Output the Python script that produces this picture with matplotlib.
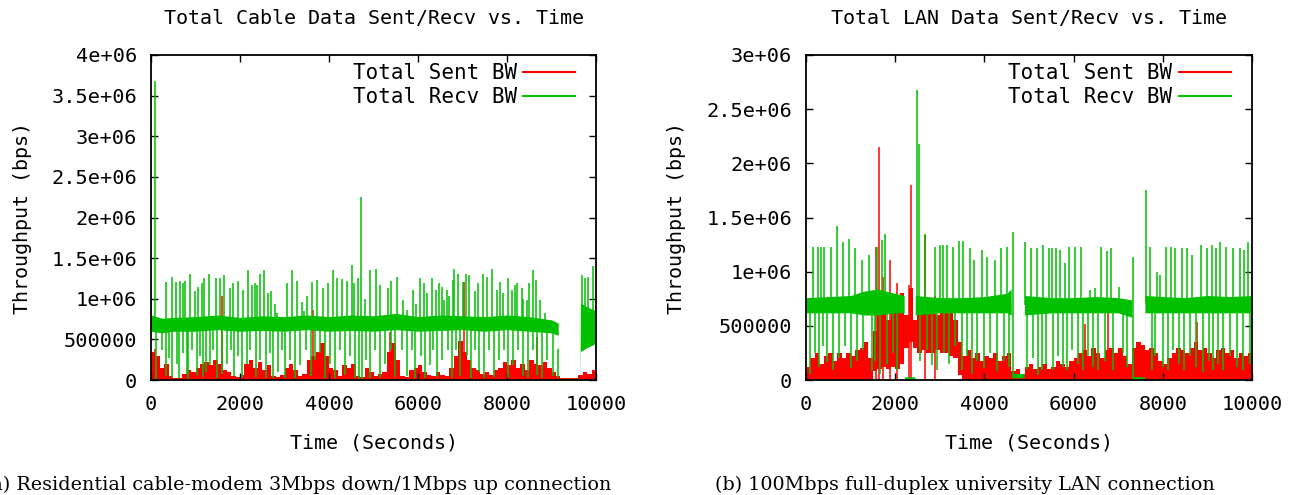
import numpy as np
import matplotlib
matplotlib.use('Agg')
import matplotlib.pyplot as plt

# all throughput values below are in units of 1e6 bps

# ---------- (a) cable modem ----------
a_band_t = [0, 250, 500, 1000, 1500, 2000, 2500, 3000, 3500, 4000, 4500, 5000, 5500,
            6000, 6500, 7000, 7500, 8000, 8500, 9000, 9150, 9160, 9640, 9650, 9800, 10000]
a_band_lo = [0.60, 0.58, 0.60, 0.60, 0.62, 0.60, 0.61, 0.60, 0.62, 0.60, 0.61, 0.60, 0.62,
             0.60, 0.61, 0.62, 0.60, 0.62, 0.60, 0.58, 0.55, 0.00, 0.00, 0.35, 0.40, 0.45]
a_band_hi = [0.80, 0.76, 0.77, 0.78, 0.80, 0.77, 0.79, 0.78, 0.80, 0.78, 0.80, 0.79, 0.82,
             0.78, 0.80, 0.79, 0.78, 0.80, 0.78, 0.74, 0.70, 0.02, 0.02, 0.95, 0.90, 0.85]

a_up_t = [10, 100, 337, 479, 562, 652, 727, 764, 876, 989,
          1049, 1138, 1191, 1311, 1460, 1550, 1640, 1775, 1850, 1962,
          2075, 2187, 2262, 2337, 2374, 2449, 2547, 2636, 2689, 2786,
          2824, 3049, 3161, 3273, 3385, 3445, 3498, 3610, 3723, 3872,
          3985, 4097, 4172, 4284, 4397, 4509, 4561, 4659, 4719, 4809,
          4921, 5048, 5146, 5333, 5385, 5520, 5656, 5746, 5881, 5956,
          6045, 6135, 6210, 6323, 6405, 6472, 6532, 6592, 6645, 6705,
          6779, 6817, 6907, 7019, 7071, 7154, 7281, 7356, 7454, 7558,
          7671, 7768, 7843, 7918, 8030, 8105, 8180, 8233, 8330, 8367,
          8442, 8502, 8592, 8652, 8742, 8854, 9678, 9753, 9828, 9925]
a_up_v = [0.98, 3.68, 1.21, 1.27, 1.21, 1.22, 1.20, 1.22, 1.31, 1.10,
          1.15, 1.19, 1.25, 1.30, 1.25, 1.25, 1.29, 1.13, 1.19, 1.22,
          1.11, 1.35, 1.17, 1.19, 1.17, 1.31, 1.35, 1.07, 1.09, 0.94,
          0.82, 1.20, 1.35, 1.22, 0.96, 0.85, 1.03, 1.21, 1.23, 1.13,
          1.19, 1.35, 1.25, 1.24, 1.22, 1.41, 1.19, 1.25, 2.25, 1.00,
          1.35, 1.37, 1.17, 1.13, 1.22, 1.27, 0.98, 0.86, 1.11, 0.94,
          1.25, 1.19, 1.07, 1.25, 1.11, 1.19, 1.15, 0.98, 1.11, 1.03,
          1.23, 1.37, 1.30, 1.21, 1.31, 1.29, 1.09, 1.19, 1.30, 1.27,
          1.37, 1.11, 1.21, 1.07, 1.25, 1.11, 1.17, 1.19, 1.13, 1.00,
          0.98, 1.19, 1.35, 1.23, 0.98, 0.82, 1.29, 1.25, 1.27, 1.40]

a_dn_t = [112, 240, 337, 412, 464, 577, 637, 712, 801, 839,
          914, 1026, 1101, 1176, 1236, 1326, 1401, 1476, 1588, 1700,
          1790, 1865, 1947, 2037, 2149, 2224, 2359, 2449, 2584, 2674,
          2734, 2861, 2936, 3011, 3123, 3236, 3348, 3483, 3588, 3685,
          3797, 3910, 4022, 4135, 4247, 4359, 4472, 4584, 4681, 4734,
          4831, 4921, 5033, 5146, 5258, 5385, 5483, 5633, 5746, 5858,
          5933, 6060, 6158, 6270, 6345, 6420, 6532, 6682, 6757, 6854,
          6944, 7094, 7184, 7281, 7379, 7483, 7603, 7708, 7828, 7933,
          8030, 8143, 8255, 8367, 8480, 8577, 8682, 8779, 8892, 9041,
          9154]
a_dn_v = [0.00, 0.37, 0.05, 0.27, 0.03, 0.20, 0.02, 0.33, 0.08, 0.01,
          0.37, 0.06, 0.29, 0.04, 0.10, 0.18, 0.37, 0.02, 0.08, 0.20,
          0.37, 0.05, 0.29, 0.02, 0.20, 0.37, 0.04, 0.25, 0.02, 0.33,
          0.02, 0.10, 0.37, 0.03, 0.25, 0.02, 0.18, 0.37, 0.05, 0.25,
          0.33, 0.02, 0.20, 0.03, 0.37, 0.06, 0.29, 0.02, 0.01, 0.01,
          0.25, 0.03, 0.37, 0.02, 0.20, 0.37, 0.04, 0.37, 0.05, 0.37,
          0.03, 0.29, 0.02, 0.18, 0.37, 0.04, 0.25, 0.37, 0.02, 0.37,
          0.05, 0.29, 0.02, 0.37, 0.10, 0.02, 0.37, 0.04, 0.25, 0.37,
          0.02, 0.18, 0.37, 0.05, 0.03, 0.37, 0.06, 0.02, 0.25, 0.05,
          0.02]

# sent bandwidth, sampled every 100 s (upper envelope)
a_sent = [0.35, 0.30, 0.15, 0.20, 0.05, 0.03, 0.03, 0.08, 0.12, 0.10,
          0.15, 0.20, 0.22, 0.18, 0.25, 0.20, 0.12, 0.10, 0.05, 0.04,
          0.06, 0.20, 0.25, 0.15, 0.22, 0.12, 0.18, 0.05, 0.04, 0.06,
          0.15, 0.20, 0.12, 0.05, 0.08, 0.25, 0.30, 0.35, 0.45, 0.30,
          0.15, 0.12, 0.05, 0.18, 0.15, 0.20, 0.05, 0.04, 0.15, 0.10,
          0.05, 0.08, 0.10, 0.35, 0.45, 0.25, 0.05, 0.04, 0.12, 0.15,
          0.18, 0.10, 0.06, 0.05, 0.10, 0.06, 0.05, 0.15, 0.30, 0.48,
          0.35, 0.25, 0.15, 0.12, 0.08, 0.10, 0.06, 0.12, 0.15, 0.22,
          0.18, 0.25, 0.15, 0.20, 0.12, 0.25, 0.20, 0.18, 0.22, 0.15,
          0.10, 0.05, 0.02, 0.02, 0.02, 0.03, 0.06, 0.10, 0.08, 0.12]
a_sent_spk_t = [100, 1588, 3648, 5370, 7034, 8667]
a_sent_spk_v = [0.38, 1.03, 0.86, 0.59, 1.21, 0.53]

# ---------- (b) university LAN ----------
b_band_t = [0, 500, 1000, 1300, 1600, 2000, 2200, 2210, 2440, 2450, 3000, 3500, 4000, 4500,
            4600, 4610, 4890, 4900, 5500, 6000, 6500, 7000, 7300, 7310, 7590, 7600, 8000,
            8500, 9000, 9500, 10000]
b_band_lo = [0.62, 0.62, 0.62, 0.60, 0.60, 0.62, 0.62, 0.00, 0.00, 0.60, 0.62, 0.62, 0.62, 0.62,
             0.60, 0.02, 0.02, 0.60, 0.62, 0.62, 0.62, 0.62, 0.58, 0.00, 0.00, 0.62, 0.62,
             0.62, 0.62, 0.62, 0.62]
b_band_hi = [0.76, 0.77, 0.78, 0.82, 0.84, 0.80, 0.78, 0.03, 0.03, 0.78, 0.76, 0.76, 0.77, 0.80,
             0.84, 0.06, 0.06, 0.78, 0.76, 0.76, 0.77, 0.76, 0.74, 0.03, 0.03, 0.78, 0.77,
             0.76, 0.78, 0.77, 0.78]

b_up_t = [150, 277, 329, 404, 561, 688, 837, 972, 1099, 1248,
          1413, 1584, 1697, 1771, 2481, 2534, 2668, 2892, 3005, 3064,
          3154, 3289, 3438, 3528, 3677, 3767, 3939, 4051, 4238, 4372,
          4499, 4649, 4920, 5050, 5180, 5322, 5456, 5509, 5598, 5695,
          5808, 5905, 6032, 6166, 6368, 6480, 6615, 6742, 6832, 7026,
          7340, 7624, 7714, 7863, 7938, 8072, 8184, 8274, 8423, 8535,
          8648, 8857, 8984, 9096, 9186, 9283, 9418, 9582, 9731, 9821,
          9918]
b_up_v = [1.23, 1.23, 1.23, 1.23, 1.23, 1.42, 1.27, 1.30, 1.22, 1.11,
          1.15, 1.23, 1.29, 1.35, 2.68, 2.18, 1.35, 1.23, 1.25, 1.25,
          1.25, 1.23, 1.28, 1.28, 1.22, 1.11, 1.20, 1.14, 1.11, 1.22,
          1.23, 1.37, 1.27, 1.22, 1.22, 1.25, 1.22, 1.22, 1.22, 1.20,
          1.08, 1.23, 1.23, 1.23, 0.83, 0.85, 1.23, 1.19, 1.22, 0.86,
          1.14, 1.75, 1.23, 1.00, 0.97, 1.23, 1.23, 1.22, 1.22, 1.22,
          1.15, 1.25, 1.22, 1.25, 1.22, 1.27, 1.23, 1.22, 1.22, 1.20,
          1.27]

b_dn_t = [90, 202, 299, 374, 463, 613, 747, 874, 1002, 1136,
          1286, 1472, 1547, 1659, 1809, 1958, 2033, 2556, 2706, 2818,
          2945, 3094, 3214, 3341, 3490, 3603, 3715, 3827, 3991, 4126,
          4290, 4440, 4559, 4960, 5100, 5200, 5284, 5382, 5546, 5658,
          5755, 5860, 5957, 6107, 6219, 6331, 6443, 6555, 6704, 6891,
          7100, 7205, 7751, 7826, 8012, 8124, 8237, 8371, 8476, 8610,
          8745, 8909, 9044, 9134, 9246, 9358, 9508, 9657, 9806, 9956]
b_dn_v = [0.06, 0.25, 0.12, 0.31, 0.17, 0.09, 0.20, 0.31, 0.11, 0.18,
          0.28, 0.08, 0.18, 0.06, 0.15, 0.25, 0.09, 0.18, 0.28, 0.14,
          0.09, 0.25, 0.15, 0.31, 0.09, 0.22, 0.06, 0.18, 0.11, 0.25,
          0.08, 0.18, 0.12, 0.10, 0.20, 0.05, 0.09, 0.15, 0.09, 0.22,
          0.12, 0.09, 0.28, 0.15, 0.09, 0.22, 0.12, 0.09, 0.18, 0.09,
          0.25, 0.12, 0.09, 0.22, 0.12, 0.09, 0.28, 0.15, 0.09, 0.22,
          0.12, 0.07, 0.18, 0.09, 0.15, 0.09, 0.22, 0.12, 0.09, 0.15]

b_sent_hi = [0.12, 0.20, 0.25, 0.15, 0.22, 0.25, 0.18, 0.25, 0.20, 0.25,
             0.22, 0.28, 0.30, 0.35, 0.20, 0.45, 0.60, 0.70, 0.55, 0.75,
             0.65, 0.80, 0.60, 0.85, 0.55, 0.70, 0.72, 0.65, 0.70, 0.60,
             0.70, 0.62, 0.65, 0.55, 0.35, 0.22, 0.28, 0.20, 0.25, 0.18,
             0.22, 0.20, 0.25, 0.18, 0.22, 0.25, 0.08, 0.10, 0.06, 0.12,
             0.15, 0.10, 0.12, 0.15, 0.10, 0.12, 0.18, 0.15, 0.12, 0.18,
             0.20, 0.25, 0.28, 0.22, 0.30, 0.25, 0.20, 0.28, 0.30, 0.25,
             0.30, 0.22, 0.15, 0.30, 0.35, 0.32, 0.28, 0.30, 0.25, 0.18,
             0.15, 0.20, 0.25, 0.30, 0.28, 0.25, 0.30, 0.35, 0.28, 0.30,
             0.25, 0.20, 0.28, 0.30, 0.25, 0.28, 0.20, 0.25, 0.22, 0.25]
b_sent_lo = [0.00, 0.00, 0.00, 0.00, 0.00, 0.00, 0.00, 0.00, 0.00, 0.00,
             0.00, 0.00, 0.00, 0.00, 0.00, 0.08, 0.10, 0.12, 0.10, 0.12,
             0.10, 0.15, 0.30, 0.35, 0.30, 0.25, 0.28, 0.25, 0.25, 0.28,
             0.25, 0.25, 0.22, 0.20, 0.05, 0.00, 0.00, 0.00, 0.00, 0.00,
             0.00, 0.00, 0.00, 0.00, 0.00, 0.00, 0.00, 0.00, 0.00, 0.00,
             0.00, 0.00, 0.00, 0.00, 0.00, 0.00, 0.00, 0.00, 0.00, 0.00,
             0.00, 0.00, 0.00, 0.00, 0.00, 0.00, 0.00, 0.00, 0.00, 0.00,
             0.00, 0.00, 0.00, 0.00, 0.00, 0.00, 0.00, 0.00, 0.00, 0.00,
             0.00, 0.00, 0.00, 0.00, 0.00, 0.00, 0.00, 0.00, 0.00, 0.00,
             0.00, 0.00, 0.00, 0.00, 0.00, 0.00, 0.00, 0.00, 0.00, 0.00]
b_sent_spk_t = [1560, 1637, 1720, 1880, 2050, 2300, 2354, 2676, 2900, 6256, 6779, 8760]
b_sent_spk_v = [1.23, 2.15, 0.95, 1.11, 0.90, 0.88, 1.80, 1.34, 0.78, 0.52, 0.62, 0.54]

a_yticks = ['0', '500000', '1e+06', '1.5e+06', '2e+06', '2.5e+06', '3e+06', '3.5e+06', '4e+06']
b_yticks = ['0', '500000', '1e+06', '1.5e+06', '2e+06', '2.5e+06', '3e+06']

RED = '#ff0000'
GREEN = '#00c000'
M = 1e6
mono = 'DejaVu Sans Mono'
fs_tick = 14.6
fs_lab = 14.4
fs_leg = 15


def draw(ax, band_t, band_lo, band_hi, up_t, up_v, dn_t, dn_v,
         sent_hi, sent_lo, spk_t, spk_v, ylabels, title):
    grid = np.arange(0, 10000, 100)
    tt = np.append(grid, 10000)
    hi = np.append(sent_hi, sent_hi[-1]) * M
    lo = np.append(sent_lo, sent_lo[-1]) * M
    ax.fill_between(tt, lo, hi, step='post', color=RED, lw=0, zorder=1)
    ax.vlines(spk_t, 0, np.array(spk_v) * M, color=RED, lw=1.1, zorder=1)

    bt = np.array(band_t)
    blo = np.array(band_lo) * M
    bhi = np.array(band_hi) * M
    ax.fill_between(bt, blo, bhi, color=GREEN, lw=0, zorder=2)
    mid = (blo + bhi) / 2
    ax.vlines(up_t, np.interp(up_t, bt, mid), np.array(up_v) * M, color=GREEN, lw=1.1, zorder=2)
    ax.vlines(dn_t, np.array(dn_v) * M, np.interp(dn_t, bt, mid), color=GREEN, lw=1.1, zorder=2)

    ax.plot([], [], color=RED, lw=1.5, label='Total Sent BW')
    ax.plot([], [], color=GREEN, lw=1.5, label='Total Recv BW')
    ax.legend(loc='upper right', bbox_to_anchor=(0.9715, 1.0), frameon=False, markerfirst=False,
              prop={'family': mono, 'size': fs_leg}, handlelength=2.5, handletextpad=0.3,
              labelspacing=0.17, borderaxespad=0.0, borderpad=0.4)

    ax.set_xlim(0, 10000)
    ax.set_ylim(0, (len(ylabels) - 1) * 0.5 * M)
    ax.set_xticks(range(0, 10001, 2000))
    ax.set_xticklabels([str(v) for v in range(0, 10001, 2000)], family=mono, fontsize=fs_tick)
    ax.set_yticks([i * 0.5 * M for i in range(len(ylabels))])
    ax.set_yticklabels(ylabels, family=mono, fontsize=fs_tick)
    ax.tick_params(direction='in', top=True, right=True, length=5, width=1)
    ax.tick_params(axis='x', pad=11)
    ax.tick_params(axis='y', pad=10)
    for s in ax.spines.values():
        s.set_linewidth(1.3)
    ax.set_title(title, family=mono, fontsize=fs_lab, pad=22)
    ax.set_xlabel('Time (Seconds)', family=mono, fontsize=fs_lab)
    ax.set_ylabel('Throughput (bps)', family=mono, fontsize=fs_lab)
    ax.xaxis.set_label_coords(0.5, -0.165)


fig = plt.figure(figsize=(12.99, 4.95), dpi=100)
ax1 = fig.add_axes([151 / 1299, 115 / 495, 445 / 1299, 325 / 495])
ax2 = fig.add_axes([806 / 1299, 115 / 495, 446 / 1299, 325 / 495])

draw(ax1, a_band_t, a_band_lo, a_band_hi, a_up_t, a_up_v, a_dn_t, a_dn_v,
     a_sent, [0] * len(a_sent), a_sent_spk_t, a_sent_spk_v, a_yticks,
     'Total Cable Data Sent/Recv vs. Time')
draw(ax2, b_band_t, b_band_lo, b_band_hi, b_up_t, b_up_v, b_dn_t, b_dn_v,
     b_sent_hi, b_sent_lo, b_sent_spk_t, b_sent_spk_v, b_yticks,
     'Total LAN Data Sent/Recv vs. Time')
ax1.yaxis.set_label_coords(-0.268, 0.5)
ax2.yaxis.set_label_coords(-0.268, 0.5)

fig.text(0.229, 0.02, '(a) Residential cable-modem 3Mbps down/1Mbps up connection',
         family='DejaVu Serif', fontsize=13.8, ha='center', va='center')
fig.text(0.743, 0.02, '(b) 100Mbps full-duplex university LAN connection',
         family='DejaVu Serif', fontsize=13.8, ha='center', va='center')

fig.savefig('out.png', dpi=100)
